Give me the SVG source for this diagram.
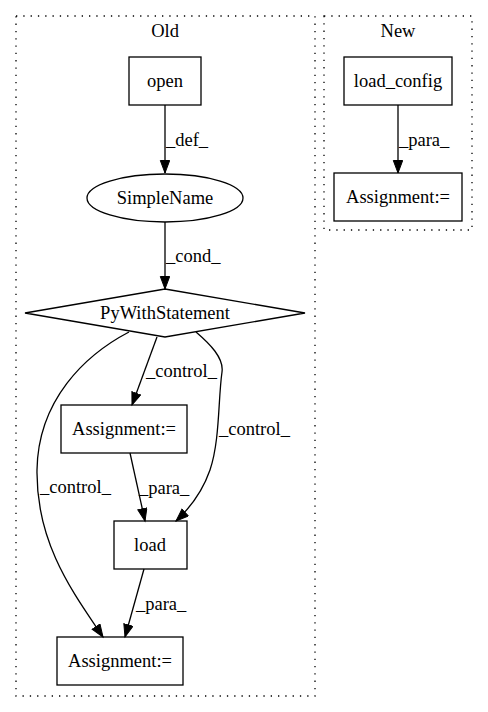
<svg xmlns="http://www.w3.org/2000/svg" width="488" height="712" viewBox="0 0 488 712">
<style>
text{font-family:"Liberation Serif","Times New Roman",serif;font-size:18.5px;fill:#000}
.c{text-anchor:middle}
.node{fill:none;stroke:#000;stroke-width:1.3}
.cluster{fill:none;stroke:#000;stroke-width:1.3;stroke-dasharray:1.3,6}
.edge{fill:none;stroke:#000;stroke-width:1.3;marker-end:url(#ah)}
</style>
<defs>
<marker id="ah" markerUnits="userSpaceOnUse" markerWidth="15" markerHeight="11" refX="13" refY="5" orient="auto">
<path d="M0.5,0.3 L13,5 L0.5,9.7 Z" fill="#000" stroke="#000" stroke-width="1"/>
</marker>
</defs>
<rect width="488" height="712" fill="#fff"/>
<g id="cluster_old">
<rect class="cluster" x="16" y="16" width="299" height="680"/>
<text class="c" x="165" y="37">Old</text>
</g>
<g id="cluster_new">
<rect class="cluster" x="324" y="16" width="148" height="214"/>
<text class="c" x="398" y="37">New</text>
</g>
<g id="connectors">
<path class="edge" d="M165,105 L165,173"/>
<text x="166" y="146">_def_</text>
<path class="edge" d="M165,222 L165,289"/>
<text x="166" y="262">_cond_</text>
<path class="edge" d="M157,337 L132,405"/>
<text x="146" y="377">_control_</text>
<path class="edge" d="M196,332 C210,344 224,358 222,372 C218,400 220,440 210,470 C203,490 190,508 176,521"/>
<text x="219" y="435">_control_</text>
<path class="edge" d="M129,332 C85,355 38,400 37,470 C36,545 75,595 103,637"/>
<text x="40" y="493">_control_</text>
<path class="edge" d="M130,453 L145,521"/>
<text x="139" y="494">_para_</text>
<path class="edge" d="M144,569 L125,637"/>
<text x="136" y="610">_para_</text>
<path class="edge" d="M398,105 L398,173"/>
<text x="399" y="146">_para_</text>
</g>
<g id="open">
<rect class="node" x="129" y="57" width="72" height="48"/>
<text class="c" x="165" y="87">open</text>
</g>
<g id="SimpleName">
<ellipse class="node" cx="165" cy="198" rx="78" ry="24"/>
<text class="c" x="165" y="204">SimpleName</text>
</g>
<g id="PyWithStatement">
<polygon class="node" points="165,289 305,313 165,337 25,313"/>
<text class="c" x="165" y="319">PyWithStatement</text>
</g>
<g id="Assignment1">
<rect class="node" x="61" y="405" width="126" height="48"/>
<text class="c" x="124" y="435">Assignment:=</text>
</g>
<g id="load">
<rect class="node" x="114" y="521" width="73" height="48"/>
<text class="c" x="150" y="551">load</text>
</g>
<g id="Assignment2">
<rect class="node" x="57" y="637" width="126" height="48"/>
<text class="c" x="120" y="667">Assignment:=</text>
</g>
<g id="load_config">
<rect class="node" x="344" y="57" width="108" height="48"/>
<text class="c" x="398" y="87">load_config</text>
</g>
<g id="Assignment3">
<rect class="node" x="334" y="173" width="128" height="48"/>
<text class="c" x="398" y="203">Assignment:=</text>
</g>
</svg>
